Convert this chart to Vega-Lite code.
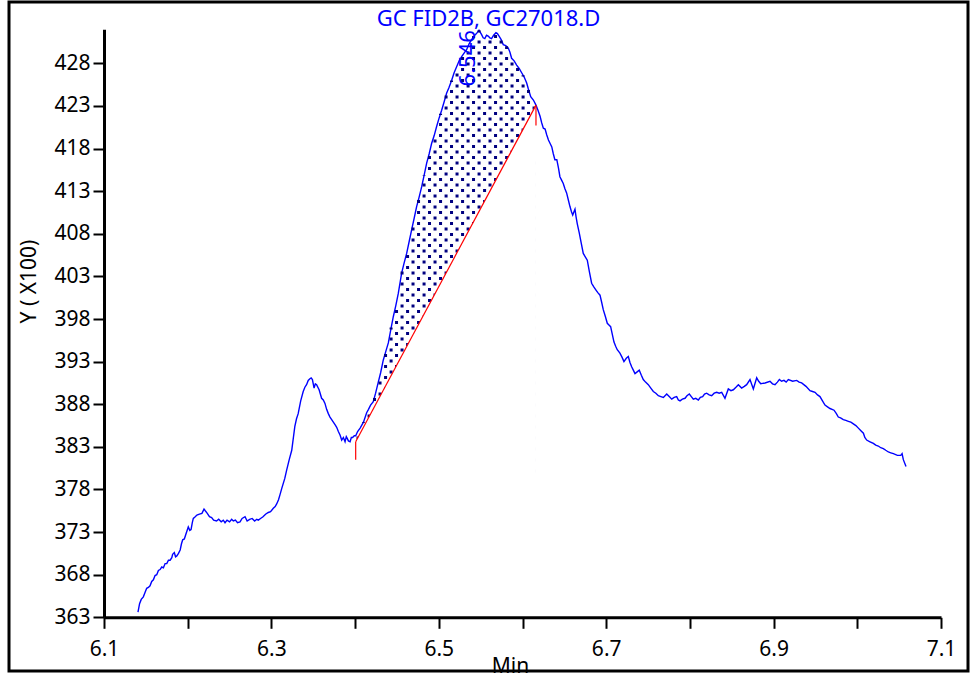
{
  "$schema": "https://vega.github.io/schema/vega-lite/v6.json",
  "autosize": "none",
  "width": 959,
  "height": 669,
  "padding": {"left": 9, "top": 2, "right": 3, "bottom": 4},
  "background": "white",
  "config": {
    "view": {"stroke": "black", "strokeWidth": 3},
    "font": "Noto Sans",
    "axis": {
      "labelFont": "Noto Sans",
      "labelFontSize": 21,
      "labelColor": "black",
      "titleFont": "Noto Sans",
      "titleFontSize": 21,
      "titleFontWeight": "normal",
      "titleColor": "black",
      "domainColor": "black",
      "domainWidth": 3,
      "tickColor": "black",
      "tickWidth": 2,
      "tickSize": 11,
      "grid": false
    }
  },
  "title": {
    "text": "GC FID2B, GC27018.D",
    "color": "#0000ff",
    "font": "Noto Sans",
    "fontSize": 22,
    "fontWeight": "normal",
    "anchor": "middle",
    "frame": "group",
    "baseline": "alphabetic",
    "offset": 0,
    "dy": 46
  },
  "datasets": {
    "trace": [
      {"t": 6.1406, "y": 363.6}, {"t": 6.1425, "y": 364.6}, {"t": 6.1445, "y": 365.1}, {"t": 6.147, "y": 365.4},
      {"t": 6.149, "y": 365.9}, {"t": 6.151, "y": 366.4}, {"t": 6.153, "y": 366.5}, {"t": 6.155, "y": 366.7},
      {"t": 6.157, "y": 367.2}, {"t": 6.159, "y": 367.4}, {"t": 6.161, "y": 367.9}, {"t": 6.163, "y": 368.0},
      {"t": 6.165, "y": 368.5}, {"t": 6.167, "y": 368.6}, {"t": 6.169, "y": 368.9}, {"t": 6.171, "y": 368.8},
      {"t": 6.173, "y": 369.3}, {"t": 6.175, "y": 369.3}, {"t": 6.177, "y": 369.7}, {"t": 6.179, "y": 369.7},
      {"t": 6.181, "y": 370.0}, {"t": 6.182, "y": 370.4}, {"t": 6.184, "y": 370.6}, {"t": 6.1855, "y": 370.1},
      {"t": 6.187, "y": 370.2}, {"t": 6.189, "y": 370.5}, {"t": 6.191, "y": 370.9}, {"t": 6.1925, "y": 371.6},
      {"t": 6.194, "y": 372.1}, {"t": 6.196, "y": 372.2}, {"t": 6.198, "y": 372.8}, {"t": 6.2007, "y": 373.6},
      {"t": 6.2025, "y": 373.2}, {"t": 6.204, "y": 373.3}, {"t": 6.2055, "y": 374.1}, {"t": 6.2067, "y": 374.6},
      {"t": 6.209, "y": 374.8}, {"t": 6.211, "y": 375.0}, {"t": 6.214, "y": 375.1}, {"t": 6.217, "y": 375.2},
      {"t": 6.2195, "y": 375.7}, {"t": 6.221, "y": 375.5}, {"t": 6.2234, "y": 375.2}, {"t": 6.226, "y": 374.8},
      {"t": 6.2286, "y": 374.7}, {"t": 6.231, "y": 374.4}, {"t": 6.2345, "y": 374.3}, {"t": 6.237, "y": 374.5},
      {"t": 6.24, "y": 374.2}, {"t": 6.2425, "y": 374.4}, {"t": 6.2446, "y": 374.1}, {"t": 6.247, "y": 374.4},
      {"t": 6.25, "y": 374.2}, {"t": 6.2525, "y": 374.5}, {"t": 6.2545, "y": 374.3}, {"t": 6.257, "y": 374.4},
      {"t": 6.2595, "y": 374.1}, {"t": 6.2625, "y": 374.2}, {"t": 6.265, "y": 374.6}, {"t": 6.2685, "y": 374.8},
      {"t": 6.271, "y": 374.3}, {"t": 6.274, "y": 374.5}, {"t": 6.277, "y": 374.6}, {"t": 6.28, "y": 374.3},
      {"t": 6.2825, "y": 374.5}, {"t": 6.2844, "y": 374.4}, {"t": 6.287, "y": 374.6}, {"t": 6.29, "y": 374.8},
      {"t": 6.293, "y": 375.1}, {"t": 6.2963, "y": 375.3}, {"t": 6.299, "y": 375.4}, {"t": 6.3023, "y": 375.8},
      {"t": 6.3045, "y": 376.0}, {"t": 6.3063, "y": 376.3}, {"t": 6.3085, "y": 376.8}, {"t": 6.3103, "y": 377.4},
      {"t": 6.3123, "y": 378.1}, {"t": 6.316, "y": 379.3}, {"t": 6.3183, "y": 380.3}, {"t": 6.3213, "y": 381.5},
      {"t": 6.3243, "y": 382.6}, {"t": 6.328, "y": 385.4}, {"t": 6.33, "y": 386.3}, {"t": 6.332, "y": 386.9},
      {"t": 6.335, "y": 388.4}, {"t": 6.338, "y": 389.5}, {"t": 6.34, "y": 390.0}, {"t": 6.342, "y": 390.3},
      {"t": 6.344, "y": 390.8}, {"t": 6.346, "y": 391.0}, {"t": 6.3475, "y": 391.1}, {"t": 6.349, "y": 390.9},
      {"t": 6.351, "y": 389.9}, {"t": 6.3525, "y": 390.4}, {"t": 6.354, "y": 390.3}, {"t": 6.3555, "y": 390.0},
      {"t": 6.357, "y": 389.7}, {"t": 6.36, "y": 388.7}, {"t": 6.362, "y": 388.5}, {"t": 6.364, "y": 388.1},
      {"t": 6.366, "y": 387.4}, {"t": 6.368, "y": 386.9}, {"t": 6.37, "y": 386.5}, {"t": 6.372, "y": 386.2},
      {"t": 6.374, "y": 385.9}, {"t": 6.376, "y": 385.6}, {"t": 6.378, "y": 385.3}, {"t": 6.38, "y": 384.8},
      {"t": 6.382, "y": 384.4}, {"t": 6.384, "y": 383.8}, {"t": 6.386, "y": 384.1}, {"t": 6.388, "y": 383.6},
      {"t": 6.3895, "y": 384.2}, {"t": 6.3906, "y": 384.0}, {"t": 6.392, "y": 383.7}, {"t": 6.394, "y": 383.6},
      {"t": 6.3955, "y": 384.1}, {"t": 6.397, "y": 384.1}, {"t": 6.399, "y": 384.3}, {"t": 6.4007, "y": 384.3},
      {"t": 6.403, "y": 384.8}, {"t": 6.406, "y": 385.2}, {"t": 6.41, "y": 385.9}, {"t": 6.4138, "y": 387.0},
      {"t": 6.416, "y": 387.4}, {"t": 6.4185, "y": 387.9}, {"t": 6.4217, "y": 388.3}, {"t": 6.4245, "y": 389.3},
      {"t": 6.4277, "y": 390.6}, {"t": 6.4305, "y": 391.7}, {"t": 6.4337, "y": 393.2}, {"t": 6.4367, "y": 394.2},
      {"t": 6.4397, "y": 395.2}, {"t": 6.4427, "y": 396.8}, {"t": 6.4457, "y": 398.3}, {"t": 6.4487, "y": 399.6},
      {"t": 6.4516, "y": 401.0}, {"t": 6.4556, "y": 403.4}, {"t": 6.4586, "y": 404.6}, {"t": 6.4616, "y": 405.7},
      {"t": 6.4646, "y": 407.1}, {"t": 6.4676, "y": 408.5}, {"t": 6.4705, "y": 409.8}, {"t": 6.4735, "y": 411.2},
      {"t": 6.4765, "y": 412.3}, {"t": 6.4795, "y": 413.5}, {"t": 6.4825, "y": 414.9}, {"t": 6.4855, "y": 416.3},
      {"t": 6.4885, "y": 417.4}, {"t": 6.4914, "y": 418.6}, {"t": 6.4944, "y": 419.5}, {"t": 6.4974, "y": 420.6},
      {"t": 6.5004, "y": 421.6}, {"t": 6.5034, "y": 422.5}, {"t": 6.5064, "y": 423.5}, {"t": 6.5093, "y": 424.5},
      {"t": 6.5123, "y": 425.2}, {"t": 6.5153, "y": 426.0}, {"t": 6.5183, "y": 426.9}, {"t": 6.5213, "y": 427.6},
      {"t": 6.5243, "y": 428.3}, {"t": 6.5273, "y": 428.8}, {"t": 6.5302, "y": 429.2}, {"t": 6.5332, "y": 429.6},
      {"t": 6.5362, "y": 430.3}, {"t": 6.5392, "y": 430.8}, {"t": 6.542, "y": 431.2}, {"t": 6.545, "y": 431.5},
      {"t": 6.548, "y": 431.9}, {"t": 6.551, "y": 431.4}, {"t": 6.553, "y": 431.0}, {"t": 6.555, "y": 430.9},
      {"t": 6.557, "y": 431.3}, {"t": 6.559, "y": 431.2}, {"t": 6.561, "y": 431.0}, {"t": 6.563, "y": 430.9},
      {"t": 6.5655, "y": 431.3}, {"t": 6.5683, "y": 431.6}, {"t": 6.57, "y": 431.5}, {"t": 6.572, "y": 431.2},
      {"t": 6.5745, "y": 430.8}, {"t": 6.577, "y": 430.2}, {"t": 6.58, "y": 430.1}, {"t": 6.583, "y": 429.8},
      {"t": 6.585, "y": 429.3}, {"t": 6.587, "y": 428.6}, {"t": 6.59, "y": 428.3}, {"t": 6.593, "y": 427.8},
      {"t": 6.596, "y": 427.4}, {"t": 6.599, "y": 426.9}, {"t": 6.602, "y": 426.4}, {"t": 6.605, "y": 425.7},
      {"t": 6.607, "y": 425.0}, {"t": 6.6098, "y": 424.1}, {"t": 6.613, "y": 423.7}, {"t": 6.6161, "y": 423.1},
      {"t": 6.6185, "y": 422.5}, {"t": 6.621, "y": 421.8}, {"t": 6.623, "y": 421.0}, {"t": 6.6249, "y": 420.4},
      {"t": 6.627, "y": 420.3}, {"t": 6.629, "y": 419.6}, {"t": 6.631, "y": 419.0}, {"t": 6.633, "y": 418.6},
      {"t": 6.635, "y": 418.2}, {"t": 6.6368, "y": 417.4}, {"t": 6.6387, "y": 416.7}, {"t": 6.641, "y": 416.7},
      {"t": 6.643, "y": 415.7}, {"t": 6.6447, "y": 414.7}, {"t": 6.6467, "y": 414.3}, {"t": 6.6487, "y": 413.9},
      {"t": 6.6507, "y": 413.3}, {"t": 6.6527, "y": 412.8}, {"t": 6.6547, "y": 412.0}, {"t": 6.6567, "y": 411.2},
      {"t": 6.6585, "y": 410.6}, {"t": 6.66, "y": 410.2}, {"t": 6.6615, "y": 410.6}, {"t": 6.6627, "y": 410.9},
      {"t": 6.664, "y": 410.0}, {"t": 6.6654, "y": 409.2}, {"t": 6.6678, "y": 408.1}, {"t": 6.67, "y": 407.0},
      {"t": 6.6726, "y": 405.7}, {"t": 6.675, "y": 405.3}, {"t": 6.6774, "y": 404.9}, {"t": 6.68, "y": 403.5},
      {"t": 6.6826, "y": 402.2}, {"t": 6.685, "y": 401.8}, {"t": 6.6878, "y": 401.4}, {"t": 6.69, "y": 401.1},
      {"t": 6.6926, "y": 400.8}, {"t": 6.6945, "y": 400.0}, {"t": 6.6965, "y": 399.1}, {"t": 6.699, "y": 398.3},
      {"t": 6.7013, "y": 397.5}, {"t": 6.7033, "y": 397.3}, {"t": 6.7053, "y": 397.1}, {"t": 6.7073, "y": 396.2},
      {"t": 6.7093, "y": 395.3}, {"t": 6.7113, "y": 394.8}, {"t": 6.7132, "y": 394.4}, {"t": 6.7164, "y": 394.0},
      {"t": 6.719, "y": 393.5}, {"t": 6.7212, "y": 393.0}, {"t": 6.724, "y": 393.4}, {"t": 6.7264, "y": 393.6},
      {"t": 6.7284, "y": 392.9}, {"t": 6.7304, "y": 392.4}, {"t": 6.7324, "y": 392.0}, {"t": 6.7344, "y": 391.6},
      {"t": 6.737, "y": 391.8}, {"t": 6.7395, "y": 392.0}, {"t": 6.742, "y": 391.4}, {"t": 6.7443, "y": 390.9},
      {"t": 6.747, "y": 390.6}, {"t": 6.7503, "y": 390.3}, {"t": 6.7533, "y": 389.9}, {"t": 6.7563, "y": 389.5},
      {"t": 6.7593, "y": 389.3}, {"t": 6.7623, "y": 389.0}, {"t": 6.7653, "y": 388.9}, {"t": 6.7683, "y": 388.8},
      {"t": 6.7723, "y": 389.2}, {"t": 6.7753, "y": 388.9}, {"t": 6.7783, "y": 388.6}, {"t": 6.7812, "y": 388.8},
      {"t": 6.7842, "y": 388.9}, {"t": 6.7862, "y": 388.5}, {"t": 6.7882, "y": 388.4}, {"t": 6.791, "y": 388.6},
      {"t": 6.7942, "y": 388.7}, {"t": 6.7965, "y": 389.0}, {"t": 6.7993, "y": 389.2}, {"t": 6.8017, "y": 388.9},
      {"t": 6.8041, "y": 388.6}, {"t": 6.807, "y": 388.7}, {"t": 6.8101, "y": 388.5}, {"t": 6.8125, "y": 388.8},
      {"t": 6.8152, "y": 388.9}, {"t": 6.8175, "y": 389.2}, {"t": 6.82, "y": 389.3}, {"t": 6.823, "y": 389.1},
      {"t": 6.826, "y": 389.0}, {"t": 6.829, "y": 389.3}, {"t": 6.832, "y": 389.4}, {"t": 6.835, "y": 389.3},
      {"t": 6.838, "y": 389.4}, {"t": 6.8419, "y": 388.7}, {"t": 6.8459, "y": 389.8}, {"t": 6.849, "y": 389.6},
      {"t": 6.8519, "y": 389.7}, {"t": 6.855, "y": 390.0}, {"t": 6.8579, "y": 390.3}, {"t": 6.8618, "y": 389.9},
      {"t": 6.865, "y": 390.1}, {"t": 6.8678, "y": 390.3}, {"t": 6.8718, "y": 390.9}, {"t": 6.8758, "y": 389.8},
      {"t": 6.8798, "y": 391.1}, {"t": 6.8822, "y": 390.7}, {"t": 6.8846, "y": 390.4}, {"t": 6.8898, "y": 390.5},
      {"t": 6.8957, "y": 390.7}, {"t": 6.8987, "y": 390.4}, {"t": 6.9017, "y": 390.3}, {"t": 6.9045, "y": 390.6},
      {"t": 6.9069, "y": 390.9}, {"t": 6.9095, "y": 390.7}, {"t": 6.9124, "y": 390.8}, {"t": 6.915, "y": 390.6},
      {"t": 6.9176, "y": 390.9}, {"t": 6.9228, "y": 390.7}, {"t": 6.9276, "y": 390.8}, {"t": 6.9305, "y": 390.6},
      {"t": 6.9335, "y": 390.5}, {"t": 6.9387, "y": 390.1}, {"t": 6.9435, "y": 389.6}, {"t": 6.9465, "y": 389.5},
      {"t": 6.9495, "y": 389.4}, {"t": 6.9525, "y": 389.1}, {"t": 6.9554, "y": 388.9}, {"t": 6.9584, "y": 388.4},
      {"t": 6.9614, "y": 387.9}, {"t": 6.9644, "y": 387.7}, {"t": 6.9674, "y": 387.5}, {"t": 6.9722, "y": 387.3},
      {"t": 6.975, "y": 386.9}, {"t": 6.9773, "y": 386.5}, {"t": 6.98, "y": 386.4}, {"t": 6.9833, "y": 386.2},
      {"t": 6.9863, "y": 386.1}, {"t": 6.9893, "y": 386.0}, {"t": 6.9923, "y": 385.9}, {"t": 6.9953, "y": 385.7},
      {"t": 6.9983, "y": 385.5}, {"t": 7.0013, "y": 385.2}, {"t": 7.0043, "y": 384.9}, {"t": 7.0073, "y": 384.6},
      {"t": 7.009, "y": 384.1}, {"t": 7.0112, "y": 383.8}, {"t": 7.0152, "y": 383.6}, {"t": 7.0192, "y": 383.4},
      {"t": 7.022, "y": 383.2}, {"t": 7.0251, "y": 383.1}, {"t": 7.028, "y": 382.9}, {"t": 7.0311, "y": 382.8},
      {"t": 7.034, "y": 382.6}, {"t": 7.0371, "y": 382.4}, {"t": 7.04, "y": 382.3}, {"t": 7.0431, "y": 382.2},
      {"t": 7.0479, "y": 382.0}, {"t": 7.0519, "y": 382.0}, {"t": 7.0535, "y": 382.2}, {"t": 7.055, "y": 381.5},
      {"t": 7.0582, "y": 380.7}
    ],
    "hatchA": [
      {"t": 6.4035, "top": 384.9}, {"t": 6.4167, "top": 387.5}, {"t": 6.4298, "top": 391.5}, {"t": 6.443, "top": 397.0},
      {"t": 6.4561, "top": 403.6}, {"t": 6.4692, "top": 409.2}, {"t": 6.4824, "top": 414.9}, {"t": 6.4955, "top": 419.9},
      {"t": 6.5087, "top": 424.4}, {"t": 6.5218, "top": 427.7}, {"t": 6.535, "top": 430.0}, {"t": 6.5481, "top": 431.9},
      {"t": 6.5612, "top": 431.0}, {"t": 6.5744, "top": 430.8}, {"t": 6.5875, "top": 428.6}, {"t": 6.6007, "top": 426.6},
      {"t": 6.6138, "top": 423.5}
    ],
    "hatchB": [
      {"t": 6.4101, "top": 385.9}, {"t": 6.4232, "top": 388.8}, {"t": 6.4364, "top": 394.1}, {"t": 6.4495, "top": 400.0},
      {"t": 6.4627, "top": 406.2}, {"t": 6.4758, "top": 412.0}, {"t": 6.4889, "top": 417.5}, {"t": 6.5021, "top": 422.1},
      {"t": 6.5152, "top": 426.0}, {"t": 6.5284, "top": 429.0}, {"t": 6.5415, "top": 431.2}, {"t": 6.5547, "top": 430.9},
      {"t": 6.5678, "top": 431.6}, {"t": 6.581, "top": 430.0}, {"t": 6.5941, "top": 427.7}, {"t": 6.6072, "top": 425.0}
    ],
    "baseline": [
      {"t": 6.4007, "y": 383.6, "drop": 381.5},
      {"t": 6.6161, "y": 423.1, "drop": 420.7}
    ],
    "apex": [
      {"t": 6.546, "y": 431.9, "label": "6.546"}
    ]
  },
  "encoding": {
    "x": {
      "field": "t",
      "type": "quantitative",
      "scale": {"domain": [6.1, 7.1], "range": [95, 932], "nice": false, "zero": false},
      "axis": {
        "values": [6.1, 6.2, 6.3, 6.4, 6.5, 6.6, 6.7, 6.8, 6.9, 7.0, 7.1],
        "format": ".1f",
        "labelExpr": "round(datum.value * 10) % 2 == 1 ? datum.label : ''",
        "offset": -53.7,
        "labelPadding": 10,
        "labelFlush": false,
        "title": "Min",
        "titleX": 501,
        "titleY": 54.7,
        "titleBaseline": "alphabetic",
        "titleAlign": "center"
      }
    }
  },
  "layer": [
    {
      "data": {"name": "trace"},
      "mark": {"type": "line", "color": "#0000ff", "strokeWidth": 1.4},
      "encoding": {
        "y": {
          "field": "y",
          "type": "quantitative",
          "scale": {"domain": [363, 432], "range": [615.3, 27.3], "nice": false, "zero": false},
          "axis": {
            "orient": "left",
            "values": [363, 368, 373, 378, 383, 388, 393, 398, 403, 408, 413, 418, 423, 428],
            "offset": -95,
            "labelPadding": 3,
            "title": null
          }
        }
      }
    },
    {
      "data": {"name": "hatchA"},
      "transform": [{"calculate": "380", "as": "floor"}],
      "mark": {"type": "rule", "color": "#000080", "strokeWidth": 3, "strokeDash": [3, 8]},
      "encoding": {
        "y": {
          "field": "floor",
          "type": "quantitative",
          "scale": {"domain": [363, 432], "range": [615.3, 27.3], "nice": false, "zero": false},
          "axis": {
            "orient": "left",
            "offset": -95,
            "domain": false,
            "ticks": false,
            "labels": false,
            "title": "Y ( X100)",
            "titleX": -75,
            "titleY": 279,
            "titleAngle": 270,
            "titleAlign": "center",
            "titleBaseline": "middle"
          }
        },
        "y2": {"field": "top"}
      }
    },
    {
      "data": {"name": "hatchB"},
      "transform": [{"calculate": "379.355", "as": "floor"}],
      "mark": {"type": "rule", "color": "#000080", "strokeWidth": 3, "strokeDash": [3, 8]},
      "encoding": {
        "y": {"field": "floor", "type": "quantitative", "scale": {"domain": [363, 432], "range": [615.3, 27.3], "nice": false, "zero": false}, "axis": null},
        "y2": {"field": "top"}
      }
    },
    {
      "data": {"name": "baseline"},
      "transform": [{"calculate": "378.5", "as": "floor"}],
      "mark": {"type": "area", "color": "white", "opacity": 1},
      "encoding": {
        "y": {"field": "y", "type": "quantitative", "scale": {"domain": [363, 432], "range": [615.3, 27.3], "nice": false, "zero": false}, "axis": null},
        "y2": {"field": "floor"}
      }
    },
    {
      "data": {"name": "baseline"},
      "mark": {"type": "line", "color": "#ff0000", "strokeWidth": 1.2},
      "encoding": {
        "y": {"field": "y", "type": "quantitative", "scale": {"domain": [363, 432], "range": [615.3, 27.3], "nice": false, "zero": false}, "axis": null}
      }
    },
    {
      "data": {"name": "baseline"},
      "mark": {"type": "rule", "color": "#ff0000", "strokeWidth": 1.2},
      "encoding": {
        "y": {"field": "y", "type": "quantitative", "scale": {"domain": [363, 432], "range": [615.3, 27.3], "nice": false, "zero": false}, "axis": null},
        "y2": {"field": "drop"}
      }
    },
    {
      "data": {"name": "apex"},
      "mark": {"type": "text", "color": "#0000ff", "font": "Noto Sans", "fontSize": 22, "angle": 270, "align": "right", "baseline": "alphabetic", "dy": -2},
      "encoding": {
        "y": {"field": "y", "type": "quantitative", "scale": {"domain": [363, 432], "range": [615.3, 27.3], "nice": false, "zero": false}, "axis": null},
        "text": {"field": "label"}
      }
    }
  ],
  "resolve": {"axis": {"y": "independent"}}
}
